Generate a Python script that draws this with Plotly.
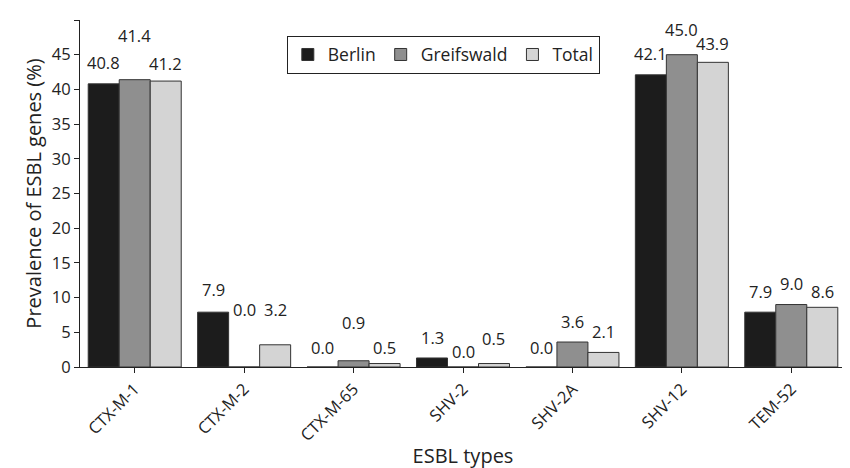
import plotly.graph_objects as go

categories = ["CTX-M-1","CTX-M-2","CTX-M-65","SHV-2","SHV-2A","SHV-12","TEM-52"]
berlin = [40.8, 7.9, 0.0, 1.3, 0.0, 42.1, 7.9]
greifswald = [41.4, 0.0, 0.9, 0.0, 3.6, 45.0, 9.0]
total = [41.2, 3.2, 0.5, 0.5, 2.1, 43.9, 8.6]
series = [("Berlin", berlin, "#1c1c1c"), ("Greifswald", greifswald, "#8f8f8f"), ("Total", total, "#d4d4d4")]
# label offsets in px (style)
offsets = {
    "Berlin": [21, 23, 20, 20, 20, 21, 21],
    "Greifswald": [44, 58, 38, 16, 21, 25, 21],
    "Total": [18, 35, 16, 25, 21, 19, 16],
}
font = "Open Sans, DejaVu Sans, sans-serif"
fig = go.Figure()
for i, (name, vals, col) in enumerate(series):
    fig.add_bar(x=categories, y=vals, name=name, marker=dict(color=col, line=dict(color="#333", width=1)),
                offsetgroup=i)
fig.update_layout(barmode="group", bargap=0.15, bargroupgap=0.0)
for i, (name, vals, col) in enumerate(series):
    for j, v in enumerate(vals):
        fig.add_annotation(x=j + (i - 1) * 0.283, y=v, xref="x", yref="y", text=f"{v:.1f}",
                           showarrow=False, yshift=offsets[name][j], yanchor="middle",
                           font=dict(size=16.5, color="#222", family=font))
fig.update_layout(
    width=850, height=468, plot_bgcolor="white", paper_bgcolor="white",
    margin=dict(l=72, r=12, t=12, b=96),
    font=dict(family=font, size=16.5, color="#222"),
    xaxis=dict(title=dict(text="ESBL types", standoff=4), tickangle=-45, showline=True, linecolor="#222",
               ticks="outside", tickcolor="#222", range=[-0.5, 6.5]),
    yaxis=dict(title=dict(text="Prevalence of ESBL genes (%)", standoff=4), range=[0, 50], dtick=5,
               showline=True, linecolor="#222", ticks="outside", tickcolor="#222", showgrid=False, zeroline=False),
    legend=dict(orientation="h", x=0.27, y=0.955, xanchor="left", yanchor="top",
                bordercolor="#222", borderwidth=1, bgcolor="white", font=dict(size=17.5)),
)
fig.write_html("out.html")
